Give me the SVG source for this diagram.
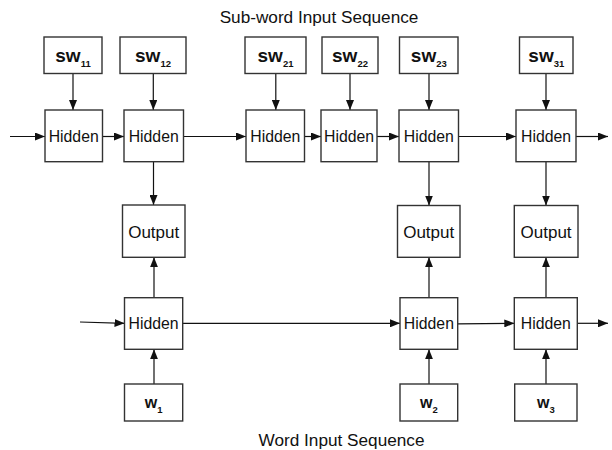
<svg xmlns="http://www.w3.org/2000/svg" width="612" height="450" viewBox="0 0 612 450">
<style>
  .box { fill: #ffffff; stroke: #333333; stroke-width: 1.4; }
  .con { fill: none; stroke: #111111; stroke-width: 1.2; marker-end: url(#ah); }
  .t { font-family: "Liberation Sans", Arial, sans-serif; fill: #111111; text-anchor: middle; }
  .hid { font-size: 15.8px; }
  .out { font-size: 17px; }
  .sw { font-size: 19px; font-weight: bold; }
  .w { font-size: 16px; font-weight: bold; }
  .sub { font-size: 9.5px; font-weight: bold; }
  .title { font-size: 17.2px; }
</style>
<defs>
  <marker id="ah" markerWidth="10" markerHeight="8" refX="10" refY="4" orient="auto" markerUnits="userSpaceOnUse">
    <path d="M0,0 L10,4 L0,8 z" fill="#111111"/>
  </marker>
</defs>
<rect x="0" y="0" width="612" height="450" fill="#ffffff"/>

<text class="t title" x="319" y="22.5">Sub-word Input Sequence</text>
<text class="t title" x="341.5" y="446">Word Input Sequence</text>

<g id="connectors">
  <path class="con" d="M10,136.5 H45"/>
  <path class="con" d="M102.5,136.5 H124"/>
  <path class="con" d="M183.5,136.5 H246"/>
  <path class="con" d="M304.5,136.5 H321"/>
  <path class="con" d="M377,136.5 H399"/>
  <path class="con" d="M458.5,136.5 H516"/>
  <path class="con" d="M576,136.5 H608"/>

  <path class="con" d="M73,73.5 V110"/>
  <path class="con" d="M153.3,73.5 V110"/>
  <path class="con" d="M275.8,73.5 V110"/>
  <path class="con" d="M350,73.5 V110"/>
  <path class="con" d="M429,73.5 V110"/>
  <path class="con" d="M546,73.5 V110"/>

  <path class="con" d="M153.5,161.7 V205"/>
  <path class="con" d="M429,161.7 V205.5"/>
  <path class="con" d="M546,161.7 V205.5"/>

  <path class="con" d="M154,297.7 V257.3"/>
  <path class="con" d="M429,297.7 V257.3"/>
  <path class="con" d="M546,297.7 V257.3"/>

  <path class="con" d="M154,384 V349.3"/>
  <path class="con" d="M429,384 V349.3"/>
  <path class="con" d="M546,384 V349.3"/>

  <path class="con" d="M80,322 L124.5,323.3"/>
  <path class="con" d="M182.7,323.3 H400"/>
  <path class="con" d="M457.7,323.8 L514.3,323.3"/>
  <path class="con" d="M577.3,323.3 H608"/>
</g>

<g id="sw11"><rect class="box" x="44" y="37" width="58" height="36.5"/><text class="t sw" x="73" y="62.3">sw<tspan class="sub" dy="4.4">11</tspan></text></g>
<g id="sw12"><rect class="box" x="120" y="37" width="66" height="36.5"/><text class="t sw" x="153" y="62.3">sw<tspan class="sub" dy="4.4">12</tspan></text></g>
<g id="sw21"><rect class="box" x="245" y="37" width="61" height="36.5"/><text class="t sw" x="275.5" y="62.3">sw<tspan class="sub" dy="4.4">21</tspan></text></g>
<g id="sw22"><rect class="box" x="322" y="37" width="56" height="36.5"/><text class="t sw" x="350" y="62.3">sw<tspan class="sub" dy="4.4">22</tspan></text></g>
<g id="sw23"><rect class="box" x="399.5" y="37" width="58.5" height="36.5"/><text class="t sw" x="428.8" y="62.3">sw<tspan class="sub" dy="4.4">23</tspan></text></g>
<g id="sw31"><rect class="box" x="519.5" y="37" width="53.5" height="36.5"/><text class="t sw" x="546.3" y="62.3">sw<tspan class="sub" dy="4.4">31</tspan></text></g>

<g id="hidden1"><rect class="box" x="45" y="110" width="57.5" height="51.7"/><text class="t hid" x="73.7" y="141.6">Hidden</text></g>
<g id="hidden2"><rect class="box" x="124" y="110" width="59.5" height="51.7"/><text class="t hid" x="153.7" y="141.6">Hidden</text></g>
<g id="hidden3"><rect class="box" x="246" y="110" width="58.5" height="51.7"/><text class="t hid" x="275.3" y="141.6">Hidden</text></g>
<g id="hidden4"><rect class="box" x="321" y="110" width="56" height="51.7"/><text class="t hid" x="349" y="141.6">Hidden</text></g>
<g id="hidden5"><rect class="box" x="399" y="110" width="59.5" height="51.7"/><text class="t hid" x="428.8" y="141.6">Hidden</text></g>
<g id="hidden6"><rect class="box" x="516" y="110" width="60" height="51.7"/><text class="t hid" x="546" y="141.6">Hidden</text></g>

<g id="output1"><rect class="box" x="122.5" y="205" width="62.5" height="52.3"/><text class="t out" x="153.7" y="237.5">Output</text></g>
<g id="output2"><rect class="box" x="397.5" y="205.5" width="62.5" height="51.8"/><text class="t out" x="428.7" y="237.5">Output</text></g>
<g id="output3"><rect class="box" x="514.3" y="205.5" width="63.7" height="51.8"/><text class="t out" x="546.1" y="237.5">Output</text></g>

<g id="whidden1"><rect class="box" x="124.5" y="297.7" width="58.2" height="51.6"/><text class="t hid" x="153.6" y="329.2">Hidden</text></g>
<g id="whidden2"><rect class="box" x="400" y="297.7" width="57.7" height="51.6"/><text class="t hid" x="428.9" y="329.2">Hidden</text></g>
<g id="whidden3"><rect class="box" x="514.3" y="297.7" width="63" height="51.6"/><text class="t hid" x="545.8" y="329.2">Hidden</text></g>

<g id="w1"><rect class="box" x="124.5" y="384" width="58.2" height="37"/><text class="t w" x="153.6" y="408.3">w<tspan class="sub" dy="4.4">1</tspan></text></g>
<g id="w2"><rect class="box" x="400" y="384" width="57.7" height="37"/><text class="t w" x="428.9" y="408.3">w<tspan class="sub" dy="4.4">2</tspan></text></g>
<g id="w3"><rect class="box" x="514.7" y="384" width="62.3" height="37"/><text class="t w" x="545.8" y="408.3">w<tspan class="sub" dy="4.4">3</tspan></text></g>
</svg>
